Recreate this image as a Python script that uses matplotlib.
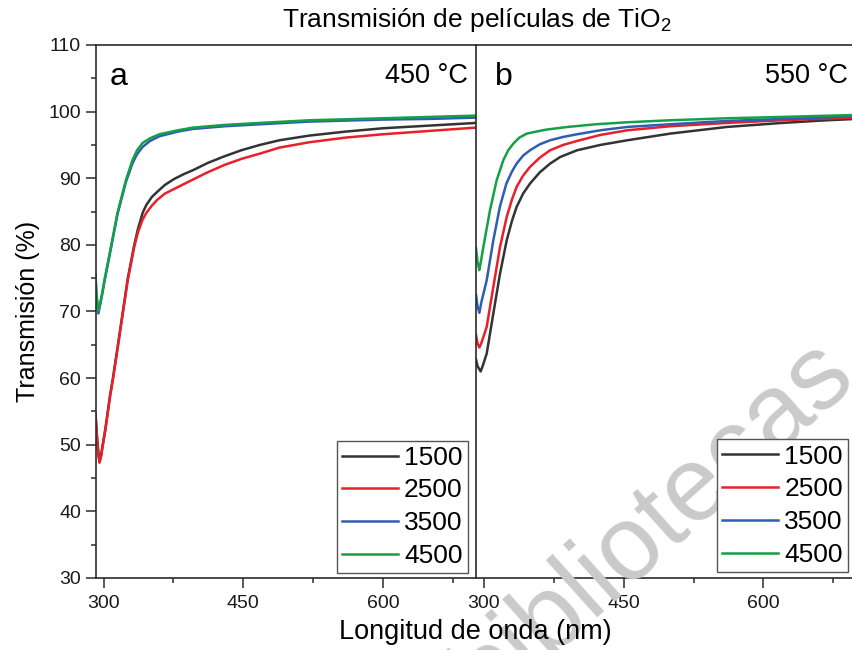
import matplotlib
matplotlib.use('Agg')
import matplotlib.pyplot as plt
from matplotlib.ticker import MultipleLocator

plt.rcParams['font.family'] = ['Liberation Sans', 'DejaVu Sans']
plt.rcParams['mathtext.fontset'] = 'custom'
plt.rcParams['mathtext.rm'] = 'Liberation Sans'

# Espesores (rpm) y colores de cada serie
labels = ['1500', '2500', '3500', '4500']
colors = ['#333333', '#e8202a', '#2f5db5', '#15a047']

# 450 °C
wl_a_1500 = [291.4, 293, 294.5, 295.7, 297.5, 299, 302, 304.6, 307, 310, 315.4, 320.8, 326, 333,
             337, 342, 346, 352, 358, 366, 376, 386, 396, 412, 430, 448, 468, 489, 521, 560, 600,
             650, 700]
t_a_1500 = [54.7, 51.2, 48.8, 47.5, 48.5, 49.9, 52.4, 55.0, 57.4, 59.9, 64.9, 70.0, 74.9, 80.0,
            82.4, 84.8, 86.0, 87.2, 88.0, 89.0, 89.9, 90.6, 91.2, 92.3, 93.3, 94.2, 95.0, 95.7,
            96.4, 97.0, 97.5, 97.9, 98.3]
wl_a_2500 = [291.4, 293, 294.5, 295.7, 297.5, 299, 302, 304.6, 307, 310, 315.4, 320.8, 326, 333,
             337, 342, 346, 352, 358, 366, 376, 386, 396, 412, 430, 448, 468, 489, 521, 560, 600,
             650, 700]
t_a_2500 = [54.5, 51.0, 48.5, 47.3, 48.3, 49.7, 52.2, 54.8, 57.2, 59.7, 64.7, 69.8, 74.7, 79.7,
            81.9, 83.8, 84.8, 85.9, 86.8, 87.7, 88.4, 89.1, 89.8, 90.9, 92.0, 92.9, 93.7, 94.6,
            95.4, 96.1, 96.6, 97.1, 97.6]
wl_a_3500 = [291.4, 292.5, 294.5, 296.5, 298.5, 301, 308, 315, 324, 328, 331, 336, 342, 350, 360,
             380, 396, 430, 468, 521, 600, 650, 700]
t_a_3500 = [75.2, 72.3, 69.7, 71.1, 72.5, 74.5, 79.5, 84.6, 89.4, 91.0, 92.2, 93.6, 94.7, 95.6,
            96.3, 97.0, 97.4, 97.8, 98.1, 98.5, 98.8, 98.9, 99.1]
wl_a_4500 = [291.4, 292.5, 294.5, 296.5, 298.5, 301, 308, 315, 324, 328, 331, 336, 342, 350, 360,
             380, 396, 430, 468, 521, 600, 650, 700]
t_a_4500 = [75.5, 72.5, 70.0, 71.3, 72.7, 74.7, 79.7, 84.8, 89.7, 91.4, 92.7, 94.2, 95.3, 96.0,
            96.6, 97.2, 97.6, 98.0, 98.3, 98.7, 99.0, 99.2, 99.4]

# 550 °C
wl_b_1500 = [291.4, 293, 296.4, 299, 302.9, 310, 317.2, 324.4, 330, 335, 342, 349.4, 360, 371,
             382, 400, 425, 454, 500, 561, 620, 668, 700]
t_b_1500 = [62.8, 61.8, 61.0, 62.0, 63.7, 69.7, 75.7, 80.7, 83.6, 85.7, 87.7, 89.2, 90.9, 92.2,
            93.2, 94.2, 95.0, 95.7, 96.7, 97.7, 98.3, 98.7, 98.9]
wl_b_2500 = [291.4, 293, 295, 297, 302.9, 310, 317.2, 324.4, 330, 335, 342, 349.4, 360, 371,
             385, 400, 425, 454, 500, 561, 620, 700]
t_b_2500 = [66.5, 65.2, 64.6, 65.2, 67.7, 73.7, 79.7, 84.2, 86.8, 88.7, 90.4, 91.7, 93.1, 94.2,
            95.0, 95.6, 96.5, 97.2, 97.8, 98.3, 98.7, 99.1]
wl_b_3500 = [291.4, 293, 295, 297, 302.9, 310, 317, 324, 330, 335, 342, 349.4, 360, 371,
             385, 400, 425, 454, 500, 561, 620, 700]
t_b_3500 = [72.5, 70.8, 69.8, 71.3, 74.7, 80.7, 85.7, 89.2, 91.0, 92.2, 93.4, 94.2, 95.1, 95.7,
            96.2, 96.6, 97.2, 97.7, 98.1, 98.6, 98.9, 99.3]
wl_b_4500 = [291.4, 293, 295, 297, 299.3, 306.4, 313.6, 320.7, 326, 331.5, 338, 346, 356, 367,
             390, 420, 454, 500, 561, 620, 700]
t_b_4500 = [79.5, 77.5, 76.2, 77.8, 79.7, 85.2, 89.7, 92.7, 94.2, 95.2, 96.1, 96.7, 97.0, 97.3,
            97.7, 98.1, 98.4, 98.7, 99.0, 99.2, 99.5]

panel_a = [(wl_a_1500, t_a_1500), (wl_a_2500, t_a_2500), (wl_a_3500, t_a_3500), (wl_a_4500, t_a_4500)]
panel_b = [(wl_b_1500, t_b_1500), (wl_b_2500, t_b_2500), (wl_b_3500, t_b_3500), (wl_b_4500, t_b_4500)]

fig = plt.figure(figsize=(8.52, 6.5), dpi=100)
ax1 = fig.add_axes([0.1121, 0.1108, 0.4466, 0.82])
ax2 = fig.add_axes([0.5587, 0.1108, 0.4466, 0.82])

spine_c = '#2b2b2b'
for ax, data, letter, lx, temp in [(ax1, panel_a, 'a', 0.038, '450 °C'),
                                   (ax2, panel_b, 'b', 0.05, '550 °C')]:
    for (x, y), lab, c in zip(data, labels, colors):
        ax.plot(x, y, color=c, lw=1.8, label=lab)
    ax.set_xlim(291.4, 700)
    ax.set_ylim(30, 110)
    ax.xaxis.set_major_locator(MultipleLocator(150))
    ax.xaxis.set_minor_locator(MultipleLocator(75))
    ax.yaxis.set_major_locator(MultipleLocator(10))
    ax.yaxis.set_minor_locator(MultipleLocator(5))
    ax.tick_params(which='major', direction='out', length=7, width=1.1, colors=spine_c,
                   labelsize=14, labelcolor='#1a1a1a')
    ax.tick_params(axis='x', which='major', pad=5)
    ax.tick_params(which='minor', direction='out', length=3.8, width=1.1, colors=spine_c)
    for s in ax.spines.values():
        s.set_color(spine_c)
        s.set_linewidth(1.2)
    ax.text(lx, 0.968, letter, transform=ax.transAxes, fontsize=23, ha='left', va='top')
    ax.text(0.978, 0.966, temp, transform=ax.transAxes, fontsize=19.5, ha='right', va='top')

ax1.spines['right'].set_visible(False)
ax2.tick_params(axis='y', which='both', left=False, labelleft=False)

leg_kw = dict(fontsize=19, frameon=True, fancybox=False, framealpha=1, edgecolor='#555555',
              handlelength=2.1, handletextpad=0.25, labelspacing=0.33, borderpad=0.2,
              borderaxespad=0)
lg1 = ax1.legend(loc='lower right', bbox_to_anchor=(0.979, 0.009), **leg_kw)
lg2 = ax2.legend(loc='lower right', bbox_to_anchor=(0.978, 0.011), **leg_kw)
for lg in (lg1, lg2):
    lg.get_frame().set_linewidth(1.0)
    lg.set_zorder(5)

ax1.set_ylabel('Transmisión (%)', fontsize=18, labelpad=6)
fig.text(0.558, 0.028, 'Longitud de onda (nm)', fontsize=19.5, ha='center', va='center')
fig.text(0.56, 0.969, 'Transmisión de películas de TiO$_2$', fontsize=19, ha='center', va='center')

# marca de agua
ax2.text(0.789, 0.163, 'bibliotecas', transform=fig.transFigure, fontsize=76, color='#cacaca',
         rotation=42, rotation_mode='anchor', ha='center', va='baseline', clip_on=False, zorder=3)

fig.savefig('out.png', dpi=100)
